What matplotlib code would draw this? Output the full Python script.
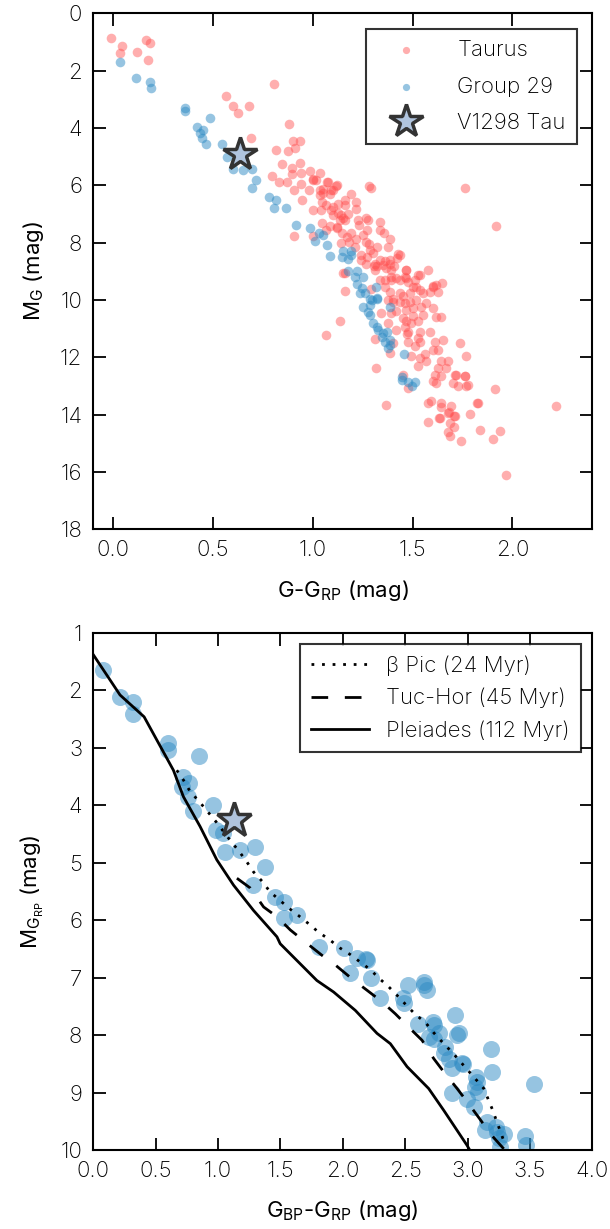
import matplotlib
matplotlib.use("Agg")
import matplotlib.pyplot as plt
import numpy as np

plt.rcParams['font.family'] = ['Inter', 'DejaVu Sans']
plt.rcParams['font.weight'] = 'light'
plt.rcParams['mathtext.fontset'] = 'custom'
plt.rcParams['mathtext.rm'] = 'Inter:light'
plt.rcParams['mathtext.default'] = 'regular'

# ---- top panel: G-G_RP vs M_G ----
taurus_x = [-0.01, 0.045, 0.035, 0.165, 0.185, 0.12, 0.175, 0.805, 0.565, 0.6, 0.68, 0.625,
            0.88, 0.69, 0.815, 0.795, 0.83, 0.902, 0.935, 0.91, 0.877,
            0.843, 0.893, 0.935, 0.893, 0.938, 0.985, 1.035, 1.002, 1.015, 1.077, 1.118, 1.093,
            1.052, 1.035, 1.048, 1.085, 0.868, 0.905, 0.94, 0.943, 0.982, 1.002, 1.043, 1.068,
            1.093, 1.102, 1.127, 1.16, 1.16, 1.193, 1.215, 1.218, 1.177, 1.143, 1.135, 1.16,
            1.122, 1.085, 1.048, 1.065, 1.002, 0.905, 1.282, 1.293, 1.227, 1.265, 1.277, 1.232,
            1.272, 1.193, 1.218, 1.182, 1.143, 1.21, 1.268, 1.282, 1.285, 1.243, 1.272, 1.335,
            1.335, 1.358, 1.322, 1.377, 1.385, 1.427, 1.435, 1.385, 1.335, 1.307, 1.322, 1.365,
            1.405, 1.418, 1.465, 1.46, 1.477, 1.51, 1.518, 1.535, 1.577, 1.602, 1.618, 1.552,
            1.485, 1.435, 1.385, 1.36, 1.152, 1.335, 1.393,
            1.268, 1.31, 1.352, 1.385, 1.393, 1.16, 1.468, 1.527, 1.36, 1.393, 1.435, 1.468,
            1.502, 1.535, 1.585, 1.602, 1.648, 1.627, 1.16, 1.377, 1.402, 1.435, 1.46, 1.485,
            1.518, 1.568, 1.543, 1.502, 1.468, 1.418, 1.393, 1.343, 1.452, 1.468, 1.493, 1.527,
            1.552, 1.602, 1.618, 1.643, 1.138, 1.377, 1.418, 1.46, 1.477, 1.535, 1.585, 1.527,
            1.068, 1.31, 1.402, 1.477, 1.535, 1.61, 1.652, 1.735, 1.51, 1.602, 1.627, 1.385,
            1.493, 1.535, 1.568, 1.527, 1.643, 1.677, 1.668, 1.765, 1.318, 1.627, 1.61, 1.643,
            1.602, 1.618, 1.71, 1.76, 1.702, 1.727, 1.768, 1.477, 1.452, 1.368, 1.577, 1.593,
            1.643, 1.693, 1.643, 1.677, 1.71, 1.635, 1.785, 1.822,
            1.715, 1.763, 1.777, 1.91, 1.827, 1.682, 1.707, 1.632, 1.578, 1.688, 1.705, 1.677,
            1.685, 1.743, 1.835, 1.9, 1.937, 2.217, 1.968, 1.76, 1.915,
            1.07, 1.12, 1.1, 1.05, 1.0, 1.035, 1.1, 1.125, 1.15, 1.12, 1.145, 1.17,
            1.25, 1.3, 1.24, 1.31, 1.36, 1.29, 1.42, 1.45, 1.4, 1.5, 1.47, 1.56]
taurus_y = [0.85, 1.13, 1.37, 0.94, 1.05, 1.35, 1.63, 2.47, 2.87, 3.25, 3.25, 3.47,
            3.85, 4.34, 4.76, 5.69, 5.87, 4.44, 4.44, 4.7, 4.79,
            5.25, 5.39, 5.23, 5.6, 5.58, 5.51, 5.58, 5.78, 5.83, 5.89, 6.01, 6.16,
            6.12, 6.35, 6.59, 6.3, 5.89, 6.18, 5.97, 6.5, 6.16, 6.85, 6.87, 6.67,
            6.85, 7.05, 6.64, 6.53, 6.67, 6.32, 6.59, 6.82, 6.99, 7.05, 7.22, 7.22,
            7.48, 7.43, 7.31, 7.55, 7.78, 7.78, 6.01, 6.1, 7.2, 7.13, 7.2, 7.4,
            7.55, 7.66, 7.89, 7.97, 8.03, 8.15, 7.97, 8.06, 8.26, 8.44, 8.49, 7.28,
            7.57, 7.66, 8.15, 8.15, 7.86, 8.38, 8.44, 8.59, 8.61, 8.82, 8.82, 8.9,
            8.82, 9.25, 8.96, 9.19, 9.36, 9.3, 9.54, 9.13, 8.96, 9.54, 9.48, 9.77,
            9.77, 9.77, 9.71, 9.54, 9.07, 9.3, 9.19,
            8.73, 8.73, 8.78, 8.73, 8.96, 9.07, 8.96, 9.13, 9.3, 9.3, 9.3, 9.25,
            9.54, 9.65, 9.71, 9.51, 9.4, 9.73, 9.69, 10.0, 10.06, 10.06, 10.12, 10.06,
            10.0, 10.09, 10.23, 10.29, 10.35, 10.4, 10.46, 10.44, 10.64, 10.75, 10.81, 10.75,
            10.52, 10.29, 10.6, 10.6, 10.72, 10.81, 11.04, 10.93, 11.1, 11.1, 11.1, 11.33,
            11.22, 11.37, 11.5, 11.45, 11.45, 11.48, 11.39, 11.5, 11.62, 11.74, 11.76, 11.85,
            11.97, 12.03, 12.14, 12.31, 12.14, 12.14, 12.37, 11.94, 12.37, 12.37, 12.6, 12.64,
            12.83, 12.89, 12.6, 12.64, 12.89, 13.01, 13.01, 13.07, 12.6, 13.67, 13.59, 13.53,
            13.59, 13.7, 13.74, 13.94, 14.03, 14.11, 13.96, 13.59,
            12.6, 12.64, 12.95, 13.12, 13.59, 13.91, 14.05, 14.12, 14.26, 14.3, 14.43, 14.59,
            14.74, 14.92, 14.54, 14.85, 14.58, 13.7, 16.09, 6.08, 7.43,
            5.9, 6.0, 6.18, 6.28, 5.83, 6.18, 6.77, 6.98, 7.15, 7.47, 7.67, 7.81,
            7.75, 8.35, 8.6, 8.95, 8.65, 9.6, 8.55, 9.85, 9.95, 10.55, 11.2, 11.9]

group29_x = [0.035, 0.115, 0.185, 0.19, 0.36, 0.36, 0.485, 0.42, 0.45, 0.435, 0.445, 0.465,
             0.545, 0.57, 0.6, 0.65, 0.695, 0.715, 0.695, 0.78, 0.815, 0.805, 0.865, 0.915,
             0.985, 1.03, 1.05, 1.01, 1.07, 1.085, 1.145, 1.15, 1.19, 1.175, 1.19, 1.175,
             1.22, 1.21, 1.25, 1.22, 1.245, 1.26, 1.235, 1.315, 1.285, 1.32, 1.295, 1.32,
             1.285, 1.25, 1.275, 1.285, 1.385, 1.3, 1.32, 1.325, 1.35, 1.37, 1.345, 1.36,
             1.385, 1.375, 1.385, 1.455, 1.445, 1.445, 1.475, 1.51, 1.495]
group29_y = [1.7, 2.26, 2.4, 2.6, 3.3, 3.4, 3.65, 3.96, 4.06, 4.17, 4.34, 4.55,
             4.55, 5.03, 5.42, 5.45, 5.42, 5.8, 6.1, 6.4, 6.5, 6.78, 6.78, 7.4,
             7.5, 7.67, 7.74, 7.95, 8.1, 8.47, 8.5, 8.3, 8.3, 8.58, 8.44, 8.99,
             8.99, 9.2, 9.2, 9.44, 9.58, 9.76, 9.76, 9.55, 9.97, 9.97, 9.99, 9.93,
             10.17, 10.24, 10.42, 10.52, 10.24, 10.8, 10.94, 11.04, 11.15, 11.1, 11.3, 11.46,
             11.39, 11.67, 11.56, 11.88, 12.67, 12.78, 12.85, 12.85, 12.99]

v1298_top = (0.635, 4.9)

# ---- bottom panel: G_BP-G_RP vs M_GRP ----
g29_bp_rp = [0.08, 0.214, 0.316, 0.316, 0.602, 0.602, 0.848, 0.717, 0.77, 0.757, 0.798, 0.709,
             0.958, 0.985, 1.039, 1.057, 1.172, 1.298, 1.373, 1.279, 1.458, 1.525, 1.525, 1.632,
             1.806, 2.006, 2.113, 2.188, 2.194, 2.06, 2.226, 2.3, 2.523, 2.48, 2.493, 2.654,
             2.675, 2.654, 2.6, 2.72, 2.734, 2.769, 2.688, 2.729, 2.903, 2.929, 2.916, 2.822,
             2.809, 2.849, 2.876, 2.956, 2.964, 3.189, 3.197, 3.068, 3.076, 3.063, 3.084, 2.876,
             2.996, 3.055, 3.531, 3.157, 3.143, 3.224, 3.237, 3.296, 3.25, 3.264, 3.464, 3.472]
g29_mrp = [1.645, 2.12, 2.2, 2.41, 2.92, 3.04, 3.14, 3.5, 3.62, 3.85, 4.1, 3.68,
           4.0, 4.43, 4.48, 4.81, 4.77, 4.72, 5.08, 5.39, 5.59, 5.68, 5.97, 5.91,
           6.46, 6.49, 6.65, 6.67, 6.7, 6.92, 7.0, 7.36, 7.13, 7.36, 7.45, 7.07,
           7.22, 7.13, 7.8, 7.77, 7.83, 7.97, 8.03, 8.06, 7.65, 7.96, 8.0, 8.21,
           8.32, 8.41, 8.58, 8.49, 8.5, 8.24, 8.65, 8.73, 8.82, 8.9, 8.99, 9.01,
           9.11, 9.25, 8.85, 9.51, 9.66, 9.6, 9.69, 9.72, 9.79, 9.95, 9.75, 9.92]

v1298_bottom = (1.124, 4.26)

bpic_x = [0.669, 0.722, 0.776, 0.851, 0.916, 0.985, 1.097, 1.164, 1.226, 1.284, 1.352, 1.418,
          1.493, 1.573, 1.645, 1.725, 1.806, 1.894, 1.974, 2.054, 2.14, 2.22, 2.295, 2.368,
          2.44, 2.509, 2.581, 2.662, 2.729, 2.809, 2.889, 2.969, 3.05, 3.13, 3.2, 3.3]
bpic_y = [3.39, 3.56, 3.76, 3.94, 4.11, 4.29, 4.61, 4.79, 4.97, 5.16, 5.32, 5.51,
          5.65, 5.8, 5.92, 6.06, 6.21, 6.34, 6.48, 6.59, 6.73, 6.86, 7.02, 7.16,
          7.32, 7.48, 7.64, 7.78, 7.96, 8.15, 8.33, 8.53, 8.73, 8.93, 9.3, 9.9]

tuchor_x = [1.151, 1.258, 1.365, 1.472, 1.579, 1.699, 1.832, 1.94, 2.073, 2.194, 2.314, 2.421,
            2.541, 2.635, 2.729, 2.809, 2.916, 2.996, 3.098, 3.183, 3.29]
tuchor_y = [5.27, 5.44, 5.77, 5.94, 6.17, 6.38, 6.61, 6.78, 7.02, 7.22, 7.42, 7.63,
            7.89, 8.09, 8.41, 8.64, 8.93, 9.16, 9.46, 9.72, 9.98]

pleiades_x = [0.0, 0.214, 0.407, 0.589, 0.642, 0.722, 0.856, 0.99, 1.124, 1.284, 1.472,
              1.498, 1.792, 1.926, 2.1, 2.274, 2.381, 2.515, 2.688, 2.809, 2.996, 3.03]
pleiades_y = [1.38, 2.08, 2.46, 3.18, 3.39, 3.85, 4.37, 4.95, 5.39, 5.83, 6.29,
              6.41, 7.05, 7.25, 7.57, 7.97, 8.15, 8.55, 8.93, 9.31, 9.92, 10.05]

red = '#ff4d4d'
blue = '#2e8bc4'
star_face = '#b0c4de'
star_edge = '#333333'
fs = 16

fig = plt.figure(figsize=(6.1, 12.29), dpi=100)
ax1 = fig.add_axes([0.153, 0.5693, 0.818, 0.4199])
ax2 = fig.add_axes([0.153, 0.0643, 0.818, 0.4207])

# top
ax1.scatter(taurus_x, taurus_y, s=48, c=red, alpha=0.45, linewidths=0, label='Taurus', zorder=2)
ax1.scatter(group29_x, group29_y, s=48, c=blue, alpha=0.5, linewidths=0, label='Group 29', zorder=3)
ax1.plot(*v1298_top, marker='*', ms=25, mfc=star_face, mec=star_edge, mew=2.5,
         ls='none', label='V1298 Tau', zorder=5)
ax1.set_xlim(-0.1, 2.4)
ax1.set_ylim(18, 0)
ax1.set_xticks(np.arange(0, 2.01, 0.5))
ax1.set_yticks(np.arange(0, 19, 2))
ax1.set_xlabel(r'G-G$_{\mathregular{RP}}$ (mag)', fontsize=fs, labelpad=13)
ax1.set_ylabel(r'M$_{\mathregular{G}}$ (mag)', fontsize=fs, labelpad=10)
leg1 = ax1.legend(loc='upper right', fontsize=fs, frameon=True, fancybox=False,
                  edgecolor='black', markerscale=0.75, borderaxespad=0.7, labelspacing=0.75,
                  handlelength=2.6, handletextpad=1.0, borderpad=0.5)
leg1.get_frame().set_linewidth(1.5)
leg1.legend_handles[2].set_markersize(25)

# bottom
ax2.scatter(g29_bp_rp, g29_mrp, s=150, c=blue, alpha=0.5, linewidths=0, zorder=2)
ax2.plot(bpic_x, bpic_y, color='black', lw=2, ls=(0, (1, 2.8)), label=r'β Pic (24 Myr)', zorder=3)
ax2.plot(tuchor_x, tuchor_y, color='black', lw=2, ls=(0, (6, 6)), label='Tuc-Hor (45 Myr)', zorder=3)
ax2.plot(pleiades_x, pleiades_y, color='black', lw=2, ls='-', label='Pleiades (112 Myr)', zorder=3)
ax2.plot(*v1298_bottom, marker='*', ms=26, mfc=star_face, mec=star_edge, mew=2.5,
         ls='none', zorder=5)
ax2.set_xlim(0, 4)
ax2.set_ylim(10, 1)
ax2.set_xticks(np.arange(0, 4.01, 0.5))
ax2.set_yticks(np.arange(1, 11, 1))
ax2.set_xlabel(r'G$_{\mathregular{BP}}$-G$_{\mathregular{RP}}$ (mag)', fontsize=fs, labelpad=12)
ax2.set_ylabel(r'M$_{\mathregular{G_{RP}}}$ (mag)', fontsize=fs, labelpad=10)
leg2 = ax2.legend(loc='upper right', fontsize=fs, frameon=True, fancybox=False,
                  edgecolor='black', borderaxespad=0.5, labelspacing=0.55,
                  handlelength=2.6, handletextpad=0.8, borderpad=0.5)
leg2.get_frame().set_linewidth(1.5)

for ax in (ax1, ax2):
    ax.tick_params(direction='in', length=9, width=1.3, top=True, right=True,
                   labelsize=fs, pad=8)
    for sp in ax.spines.values():
        sp.set_linewidth(1.5)

fig.savefig('out.png', dpi=100)
